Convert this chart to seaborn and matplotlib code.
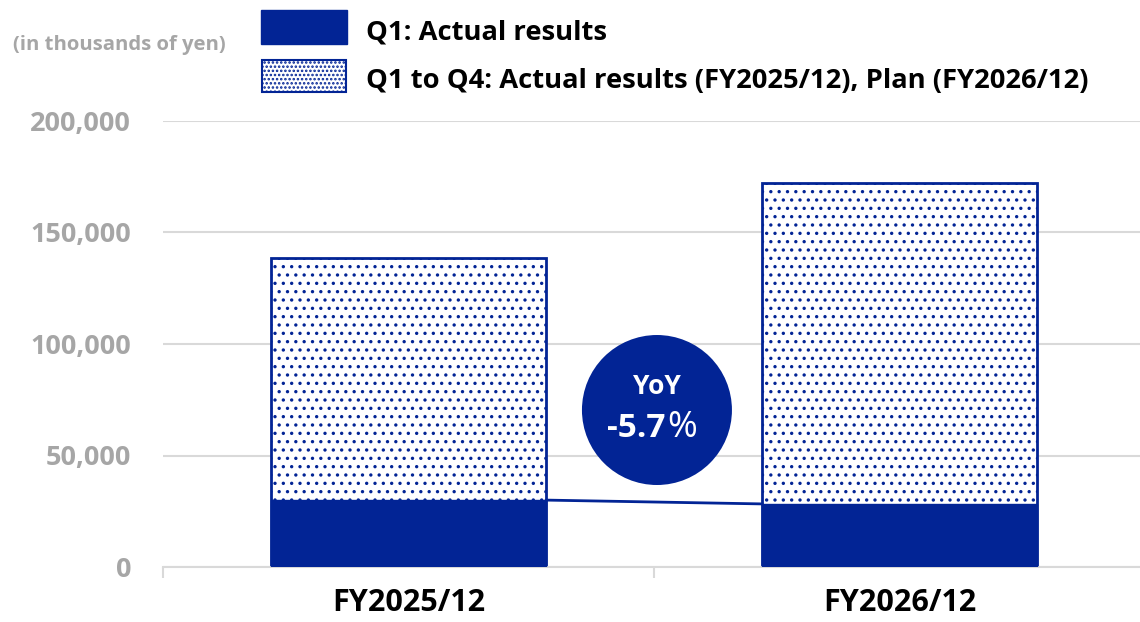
import matplotlib
matplotlib.use("Agg")
import matplotlib.pyplot as plt
from matplotlib.patches import Rectangle
import seaborn as sns
import pandas as pd

# Data (thousands of yen)
periods = ["FY2025/12", "FY2026/12"]
full_year = [138500, 172000]      # Q1-Q4 actual (FY2025/12), plan (FY2026/12)
q1_actual = [30000, 28290]        # Q1 actual results
yoy_label = "-5.7"
y_ticks = [0, 50000, 100000, 150000, 200000]
legend_labels = ["Q1: Actual results",
                 "Q1 to Q4: Actual results (FY2025/12), Plan (FY2026/12)"]
unit_label = "(in thousands of yen)"

BLUE = "#022495"
GRID = "#D9D9D9"
TICK_GRAY = "#A6A6A6"
FONT = "Open Sans"

sns.set_theme(style="white")
plt.rcParams["font.family"] = [FONT, "DejaVu Sans"]
plt.rcParams["hatch.linewidth"] = 1.2

df = pd.DataFrame({"period": periods, "full": full_year, "q1": q1_actual})

W, H = 1140, 622
fig = plt.figure(figsize=(W / 100, H / 100), dpi=100)
ax = fig.add_axes([163 / W, 1 - 567 / H, 982 / W, (567 - 121) / H])

bar_w = 0.56
sns.barplot(data=df, x="period", y="full", ax=ax, width=bar_w, color="white",
            edgecolor=BLUE, linewidth=2, hatch="..", saturation=1, zorder=2)
sns.barplot(data=df, x="period", y="q1", ax=ax, width=bar_w, color=BLUE,
            edgecolor=BLUE, linewidth=1, saturation=1, zorder=3)

# connector between Q1 tops
ax.plot([0 + bar_w / 2, 1 - bar_w / 2], q1_actual, color=BLUE, lw=2, zorder=3)

ax.set_xlim(-0.5, 1.5)
ax.set_ylim(0, 200000)
ax.set_yticks(y_ticks)
ax.set_yticklabels([f"{v:,}" for v in y_ticks])
ax.yaxis.grid(True, color=GRID, lw=1.5, zorder=0)
ax.set_axisbelow(True)
for s in ["top", "right", "left"]:
    ax.spines[s].set_visible(False)
ax.spines["bottom"].set_color(GRID)
ax.spines["bottom"].set_linewidth(1.5)
ax.set_xlabel("")
ax.set_ylabel("")

ax.tick_params(axis="y", length=0, pad=23, labelsize=19.5, labelcolor=TICK_GRAY)
for t in ax.get_yticklabels():
    t.set_fontweight("bold")
ax.set_xticks([0, 1])
ax.set_xticks([-0.5, 0.5, 1.5], minor=True)
ax.tick_params(axis="x", which="major", length=0, pad=15, labelsize=22,
               labelcolor="black")
ax.tick_params(axis="x", which="minor", length=8, width=1.5, color=GRID,
               direction="out", bottom=True)
for t in ax.get_xticklabels():
    t.set_fontweight("bold")

# YoY badge
bx = 0.506
ax.scatter([bx], [70400], s=(150 * 0.72) ** 2, color=BLUE, zorder=5,
           edgecolors="none", clip_on=False)
ax.text(bx, 80900, "YoY", ha="center", va="center", color="white",
        fontsize=19, fontweight="bold", zorder=6)
ax.text(0.524, 62300, yoy_label, ha="right", va="center", color="white",
        fontsize=24, fontweight="bold", zorder=6)
ax.text(0.527, 62300, "%", ha="left", va="center", color="white",
        fontsize=26, zorder=6)

# legend keys and labels
fig.add_artist(Rectangle((261 / W, 1 - 44 / H), 86 / W, 34 / H,
                         transform=fig.transFigure, facecolor=BLUE,
                         edgecolor=BLUE, lw=1))
fig.add_artist(Rectangle((262 / W, 1 - 92 / H), 84 / W, 32 / H,
                         transform=fig.transFigure, facecolor="white",
                         edgecolor=BLUE, lw=1.5, hatch="...."))
for label, yc in zip(legend_labels, [33, 81]):
    fig.text(366 / W, 1 - yc / H, label, ha="left", va="center",
             color="black", fontsize=19.7, fontweight="bold")

fig.text(13 / W, 1 - 45 / H, unit_label, ha="left", va="center",
         color=TICK_GRAY, fontsize=14.6, fontweight="bold")

fig.savefig("out.png", dpi=100)
